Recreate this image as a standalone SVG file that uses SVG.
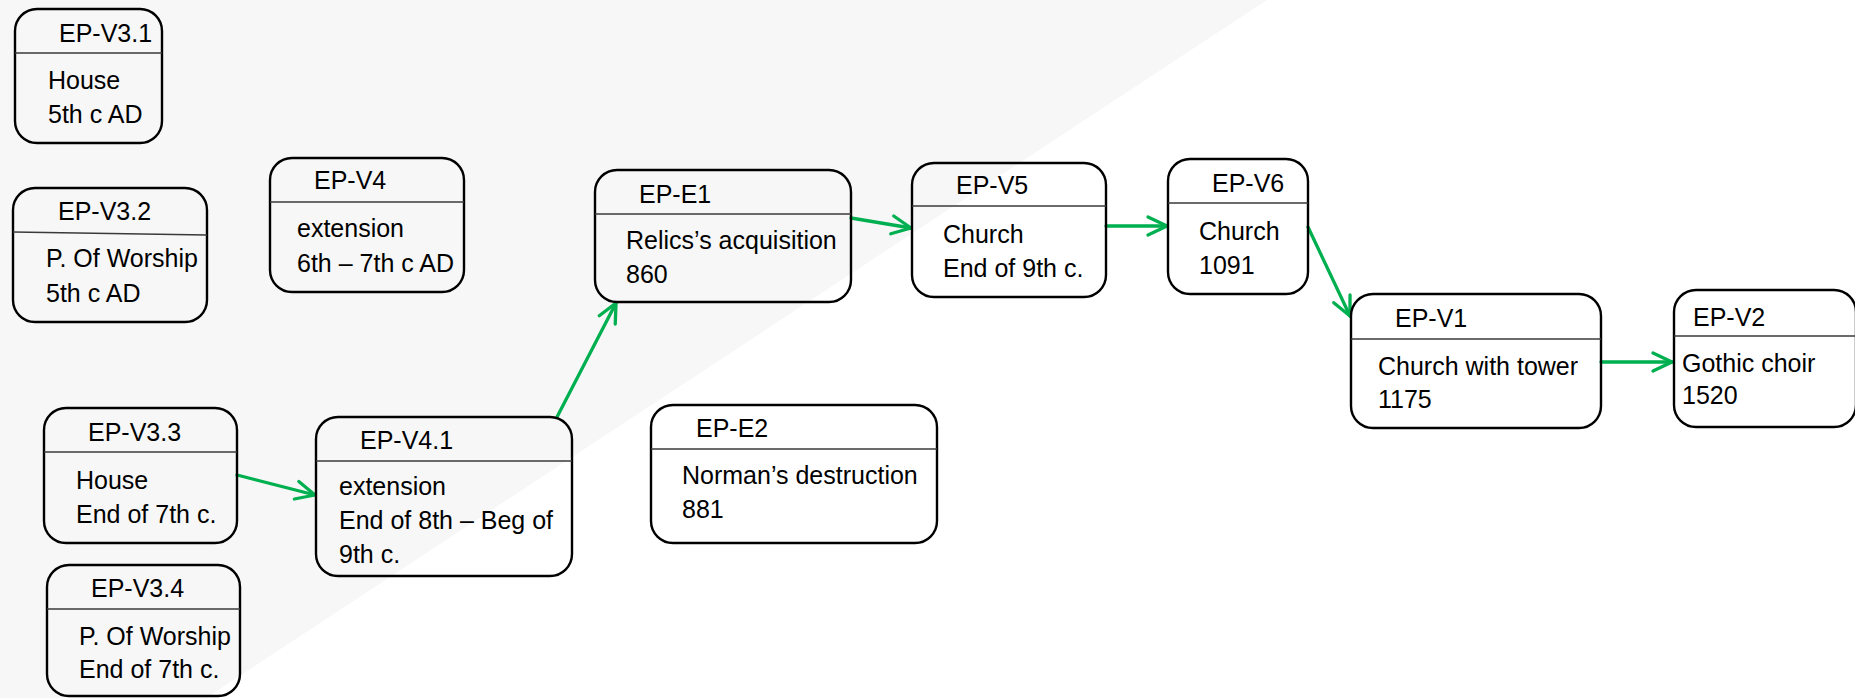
<svg xmlns="http://www.w3.org/2000/svg" width="1855" height="698" viewBox="0 0 1855 698">
<style>
.box{fill:none;stroke:#000;stroke-width:2.4}
.sep{stroke:#3a3a3a;stroke-width:1.4}
text{font-family:"Liberation Sans",Arial,sans-serif;font-size:25px;fill:#000}
.conn{stroke:#00b050;stroke-width:3.3;fill:none;stroke-linecap:round;marker-end:url(#arr)}
</style>
<defs>
<marker id="arr" markerUnits="userSpaceOnUse" markerWidth="30" markerHeight="30" viewBox="-25 -15 30 30" refX="0" refY="0" orient="auto" overflow="visible">
<path d="M-19,-9 L0,0 L-19,9" fill="none" stroke="#00b050" stroke-width="3.3" stroke-linecap="round" stroke-linejoin="round"/>
</marker>
</defs>
<rect width="1855" height="698" fill="#fff"/>
<polygon points="0,0 1267,0 206,698 0,698" fill="#f7f7f7"/>

<g id="connectors">
<line class="conn" x1="237" y1="475" x2="315" y2="495"/>
<line class="conn" x1="557" y1="417" x2="616" y2="303"/>
<line class="conn" x1="851" y1="218" x2="911" y2="228"/>
<line class="conn" x1="1106" y1="226" x2="1167" y2="226"/>
<line class="conn" x1="1308" y1="227" x2="1350" y2="316"/>
<line class="conn" x1="1601" y1="362" x2="1672" y2="362"/>
</g>

<g id="EP-V3.1">
<rect class="box" x="15" y="9" width="147" height="134" rx="22"/>
<line class="sep" x1="15" y1="53" x2="162" y2="53"/>
<text x="59" y="42">EP-V3.1</text>
<text x="48" y="89">House</text>
<text x="48" y="123">5th c AD</text>
</g>

<g id="EP-V3.2">
<rect class="box" x="13" y="188" width="194" height="134" rx="22"/>
<line class="sep" x1="13" y1="232" x2="207" y2="235"/>
<text x="58" y="220">EP-V3.2</text>
<text x="46" y="267">P. Of Worship</text>
<text x="46" y="302">5th c AD</text>
</g>

<g id="EP-V4">
<rect class="box" x="270" y="158" width="194" height="134" rx="22"/>
<line class="sep" x1="270" y1="202" x2="464" y2="202"/>
<text x="314" y="189">EP-V4</text>
<text x="297" y="237">extension</text>
<text x="297" y="272">6th – 7th c AD</text>
</g>

<g id="EP-V3.3">
<rect class="box" x="44" y="408" width="193" height="135" rx="22"/>
<line class="sep" x1="44" y1="452" x2="237" y2="452"/>
<text x="88" y="441">EP-V3.3</text>
<text x="76" y="489">House</text>
<text x="76" y="523">End of 7th c.</text>
</g>

<g id="EP-V3.4">
<rect class="box" x="47" y="565" width="193" height="131" rx="22"/>
<line class="sep" x1="47" y1="609" x2="240" y2="609"/>
<text x="91" y="597">EP-V3.4</text>
<text x="79" y="645">P. Of Worship</text>
<text x="79" y="678">End of 7th c.</text>
</g>

<g id="EP-V4.1">
<rect class="box" x="316" y="417" width="256" height="159" rx="22"/>
<line class="sep" x1="316" y1="461" x2="572" y2="461"/>
<text x="360" y="449">EP-V4.1</text>
<text x="339" y="495">extension</text>
<text x="339" y="529">End of 8th – Beg of</text>
<text x="339" y="563">9th c.</text>
</g>

<g id="EP-E1">
<rect class="box" x="595" y="170" width="256" height="132" rx="22"/>
<line class="sep" x1="595" y1="214" x2="851" y2="214"/>
<text x="639" y="203">EP-E1</text>
<text x="626" y="249">Relics’s acquisition</text>
<text x="626" y="283">860</text>
</g>

<g id="EP-E2">
<rect class="box" x="651" y="405" width="286" height="138" rx="22"/>
<line class="sep" x1="651" y1="449" x2="937" y2="449"/>
<text x="696" y="437">EP-E2</text>
<text x="682" y="484">Norman’s destruction</text>
<text x="682" y="518">881</text>
</g>

<g id="EP-V5">
<rect class="box" x="912" y="163" width="194" height="134" rx="22"/>
<line class="sep" x1="912" y1="206" x2="1106" y2="206"/>
<text x="956" y="194">EP-V5</text>
<text x="943" y="243">Church</text>
<text x="943" y="277">End of 9th c.</text>
</g>

<g id="EP-V6">
<rect class="box" x="1168" y="159" width="140" height="135" rx="22"/>
<line class="sep" x1="1168" y1="203" x2="1308" y2="203"/>
<text x="1212" y="192">EP-V6</text>
<text x="1199" y="240">Church</text>
<text x="1199" y="274">1091</text>
</g>

<g id="EP-V1">
<rect class="box" x="1351" y="294" width="250" height="134" rx="22"/>
<line class="sep" x1="1351" y1="339" x2="1601" y2="339"/>
<text x="1395" y="327">EP-V1</text>
<text x="1378" y="375">Church with tower</text>
<text x="1378" y="408">1175</text>
</g>

<g id="EP-V2">
<rect class="box" x="1674" y="290" width="182" height="137" rx="22"/>
<line class="sep" x1="1674" y1="336" x2="1856" y2="336"/>
<text x="1693" y="326">EP-V2</text>
<text x="1682" y="372">Gothic choir</text>
<text x="1682" y="404">1520</text>
</g>
</svg>
